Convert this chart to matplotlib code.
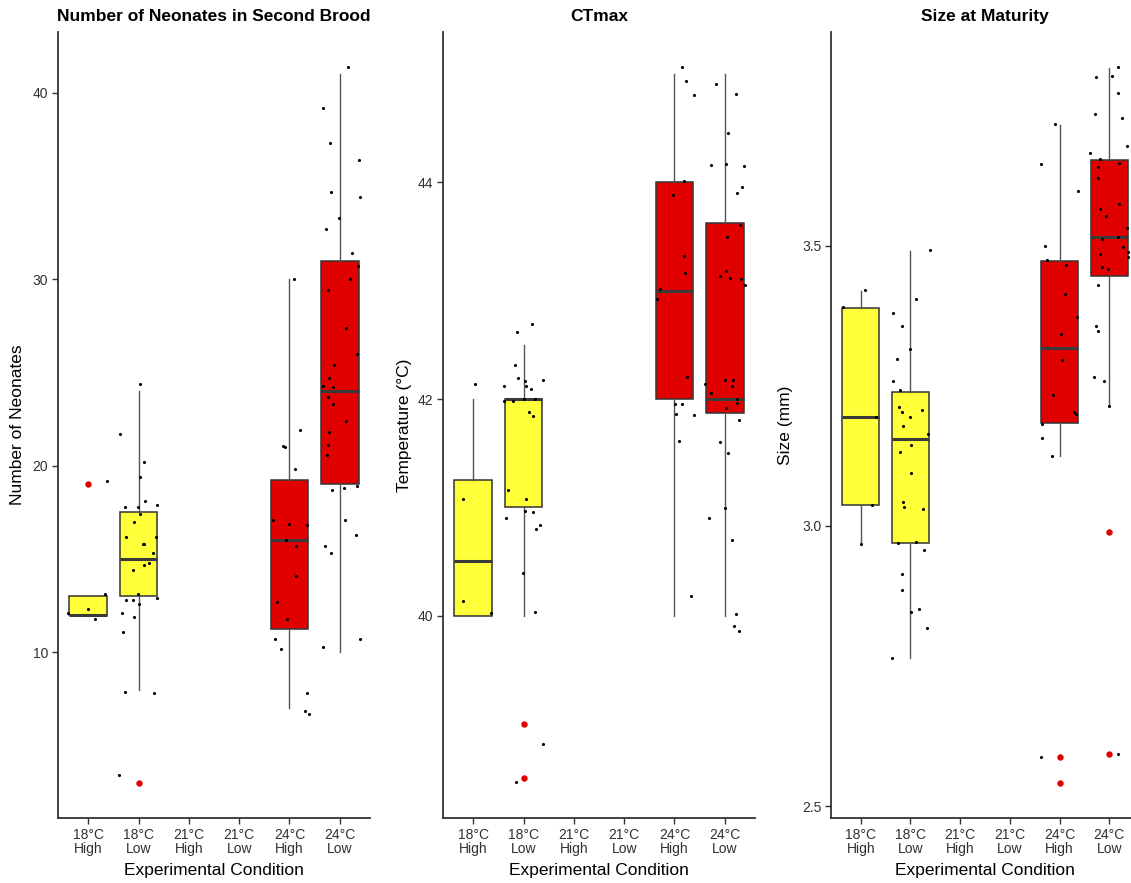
import matplotlib.pyplot as plt
import numpy as np

plt.rcParams['font.family'] = ['Liberation Sans', 'DejaVu Sans']

conditions = ["18°C\nHigh", "18°C\nLow", "21°C\nHigh", "21°C\nLow", "24°C\nHigh", "24°C\nLow"]
group_pos = [1, 2, 5, 6]   # only 18°C and 24°C groups have data
group_colors = ["#FFFF3A", "#FFFF3A", "#E00000", "#E00000"]

# ---- Number of neonates in second brood ----
neo_q1 = [12, 13, 11.25, 19]
neo_med = [12, 15, 16, 24]
neo_q3 = [13, 17.5, 19.25, 31]
neo_lo = [12, 8, 7, 10]
neo_hi = [13, 24, 30, 41]
neo_out = [[19], [3], [], []]
neo_pts = [
    ([0.0, -0.40, 0.13, 0.33, 0.38],
     [12.3, 12.1, 11.8, 13.1, 19.2]),
    ([0.03, -0.36, 0.11, 0.03, 0.13, 0.36, -0.27, -0.02, 0.03, -0.08, -0.25, 0.34, 0.08, 0.11, 0.29,
      0.20, 0.11, -0.11, -0.01, -0.24, -0.10, 0.0, 0.37, -0.32, -0.09, -0.31, -0.27, 0.30, -0.39],
     [24.4, 21.7, 20.2, 19.4, 18.1, 17.9, 17.8, 17.8, 17.4, 17.0, 16.2, 16.2, 15.8, 15.8, 15.3,
      14.8, 14.7, 14.4, 13.1, 12.8, 12.8, 12.6, 12.9, 12.1, 11.9, 11.1, 7.9, 7.8, 3.4]),
    ([0.09, 0.20, -0.09, -0.12, 0.11, -0.33, -0.01, 0.34, -0.07, 0.13, 0.13, -0.24, -0.05, -0.28,
      -0.16, 0.35, 0.31, 0.39],
     [30.0, 21.9, 21.0, 21.05, 19.8, 17.1, 16.9, 16.8, 16.0, 15.7, 14.1, 12.7, 11.8, 10.7,
      10.2, 7.8, 6.85, 6.7]),
    ([0.16, -0.33, -0.20, 0.38, -0.18, 0.41, -0.02, -0.28, 0.24, 0.36, 0.20, -0.23, 0.13, 0.35, -0.12,
      -0.22, -0.33, -0.13, -0.23, -0.13, 0.13, -0.22, -0.23, -0.25, -0.16, 0.08, 0.35, 0.10, 0.33,
      -0.30, -0.17, -0.34, 0.40],
     [41.4, 39.2, 37.3, 36.4, 34.7, 34.4, 33.3, 32.7, 31.4, 30.7, 30.0, 29.4, 27.4, 26.0, 25.4,
      24.7, 24.3, 24.2, 23.7, 23.3, 22.4, 21.8, 21.1, 20.6, 18.7, 18.8, 18.9, 17.1, 16.3,
      15.7, 15.3, 10.3, 10.7]),
]

# ---- CTmax ----
ct_q1 = [40, 41, 42, 41.875]
ct_med = [40.5, 42, 43, 42]
ct_q3 = [41.25, 42, 44, 43.63]
ct_lo = [40, 40, 40, 40]
ct_hi = [42, 42.5, 45, 45]
ct_out = [[], [39.0, 38.5], [], []]
ct_pts = [
    ([0.03, -0.20, -0.21, 0.35],
     [42.14, 41.08, 40.13, 40.02]),
    ([0.17, -0.13, -0.17, -0.11, 0.02, 0.39, -0.38, 0.15, 0.05, -0.38, -0.20, 0.01, 0.23, 0.11, 0.19,
      -0.30, 0.05, 0.03, 0.19, -0.34, 0.32, 0.25, -0.01, 0.23, 0.39, -0.15],
     [42.69, 42.62, 42.31, 42.19, 42.17, 42.18, 42.12, 42.09, 42.12, 41.98, 41.98, 42.0, 42.0, 41.88, 41.84,
      41.16, 41.08, 40.97, 40.96, 40.9, 40.84, 40.8, 40.39, 40.03, 38.81, 38.46]),
    ([0.14, 0.22, 0.39, 0.19, -0.03, 0.18, 0.20, -0.29, -0.34, 0.25, 0.01, 0.14, 0.03, 0.39, 0.09, 0.32],
     [45.07, 44.94, 44.81, 44.01, 43.88, 43.32, 43.16, 43.02, 42.92, 42.2, 41.95, 41.95, 41.86, 41.85,
      41.61, 40.18]),
    ([-0.18, 0.23, 0.07, -0.28, 0.03, 0.38, 0.34, 0.25, 0.30, 0.05, -0.10, 0.03, 0.11, 0.32, 0.41,
      -0.40, -0.27, 0.01, 0.17, 0.15, 0.24, 0.25, 0.03, 0.28, -0.10, 0.07, -0.31, 0.01, 0.15, 0.22,
      0.18, 0.28],
     [44.91, 44.82, 44.46, 44.16, 44.17, 44.15, 43.96, 43.9, 43.61, 43.5, 43.14, 43.18, 43.12, 43.11, 43.05,
      42.14, 42.06, 42.18, 42.18, 42.12, 42.0, 41.96, 41.92, 41.81, 41.6, 41.5, 40.9, 40.99, 40.7, 40.01,
      39.9, 39.86]),
]

# ---- Size at maturity ----
sz_q1 = [3.037, 2.969, 3.184, 3.446]
sz_med = [3.195, 3.155, 3.318, 3.515]
sz_q3 = [3.389, 3.239, 3.473, 3.652]
sz_lo = [2.967, 2.764, 3.125, 3.216]
sz_hi = [3.419, 3.491, 3.715, 3.817]
sz_out = [[], [], [2.588, 2.542], [2.989, 2.594]]
sz_pts = [
    ([0.09, -0.36, 0.30, 0.22, 0.0],
     [3.42, 3.39, 3.195, 3.037, 2.967]),
    ([0.39, 0.12, -0.35, -0.17, -0.01, -0.28, -0.35, -0.22, -0.23, -0.18, 0.23, -0.01, -0.16, 0.35, 0.02,
      -0.21, 0.02, -0.15, -0.14, 0.26, 0.11, -0.25, 0.27, -0.17, -0.17, 0.18, 0.01, 0.33, -0.38],
     [3.492, 3.405, 3.379, 3.357, 3.316, 3.298, 3.259, 3.242, 3.212, 3.203, 3.207, 3.195, 3.179, 3.164, 3.144,
      3.132, 3.095, 3.043, 3.034, 3.03, 2.971, 2.969, 2.957, 2.914, 2.886, 2.851, 2.847, 2.818, 2.764]),
    ([-0.09, -0.38, 0.37, -0.29, -0.26, 0.13, 0.11, 0.35, 0.02, 0.05, -0.13, 0.30, 0.34, -0.36, -0.35,
      -0.15, -0.38],
     [3.717, 3.645, 3.598, 3.499, 3.475, 3.465, 3.413, 3.373, 3.342, 3.296, 3.234, 3.204, 3.199, 3.182, 3.157,
      3.125, 2.588]),
    ([0.18, 0.05, -0.27, 0.17, -0.28, 0.25, 0.36, -0.39, -0.19, 0.20, -0.22, -0.22, 0.20, -0.19, -0.07,
      0.36, 0.18, -0.14, 0.28, 0.38, 0.37, -0.19, -0.15, -0.03, -0.22, -0.27, -0.22, -0.31, -0.11, 0.0, 0.18],
     [3.819, 3.802, 3.801, 3.773, 3.734, 3.728, 3.678, 3.665, 3.654, 3.648, 3.64, 3.62, 3.574, 3.566, 3.553,
      3.531, 3.515, 3.512, 3.497, 3.489, 3.48, 3.485, 3.462, 3.458, 3.43, 3.357, 3.348, 3.265, 3.258, 3.214,
      2.594]),
]


def draw_panel(ax, title, ylabel, q1, med, q3, lo, hi, out, pts, ylim, yticks, yticklabels):
    stats = []
    for i in range(len(group_pos)):
        stats.append(dict(q1=q1[i], med=med[i], q3=q3[i], whislo=lo[i], whishi=hi[i], fliers=out[i]))
    bp = ax.bxp(stats, positions=group_pos, widths=0.75, patch_artist=True, showcaps=False,
                boxprops=dict(edgecolor="#333333", linewidth=1.1),
                medianprops=dict(color="#3a3a3a", linewidth=2.2, solid_capstyle="butt"),
                whiskerprops=dict(color="#555555", linewidth=1.0),
                flierprops=dict(marker="o", markerfacecolor="#E00000", markeredgecolor="#E00000",
                                markersize=3.6))
    for patch, c in zip(bp["boxes"], group_colors):
        patch.set_facecolor(c)

    # jittered raw observations
    for p, (dx, vals) in zip(group_pos, pts):
        ax.scatter(p + np.array(dx), vals, s=5, color="black", zorder=4, linewidths=0)

    ax.set_xlim(0.4, 6.6)
    ax.set_ylim(*ylim)
    ax.set_xticks(range(1, 7))
    ax.set_xticklabels(conditions, fontsize=10, color="#303030", linespacing=1.0)
    ax.set_yticks(yticks)
    ax.set_yticklabels(yticklabels, fontsize=10, color="#303030")
    ax.tick_params(length=4, width=1, color="#333333", pad=3)
    for s in ["top", "right"]:
        ax.spines[s].set_visible(False)
    for s in ["left", "bottom"]:
        ax.spines[s].set_color("#333333")
        ax.spines[s].set_linewidth(1.3)
    ax.set_title(title, fontsize=12.5, fontweight="bold", pad=8)
    ax.set_xlabel("Experimental Condition", fontsize=12.5, labelpad=5)
    ax.set_ylabel(ylabel, fontsize=12.5)


fig = plt.figure(figsize=(11.31, 8.83), dpi=100)
W, H = 1131.0, 883.0
bottom = (H - 818) / H
height = (818 - 32) / H

ax1 = fig.add_axes([58 / W, bottom, 312 / W, height])
ax2 = fig.add_axes([443 / W, bottom, 312 / W, height])
ax3 = fig.add_axes([831 / W, bottom, 308 / W, height])

draw_panel(ax1, "Number of Neonates in Second Brood", "Number of Neonates",
           neo_q1, neo_med, neo_q3, neo_lo, neo_hi, neo_out, neo_pts,
           (1.12, 43.25), [10, 20, 30, 40], ["10", "20", "30", "40"])
draw_panel(ax2, "CTmax", "Temperature (°C)",
           ct_q1, ct_med, ct_q3, ct_lo, ct_hi, ct_out, ct_pts,
           (38.13, 45.39), [40, 42, 44], ["40", "42", "44"])
draw_panel(ax3, "Size at Maturity", "Size (mm)",
           sz_q1, sz_med, sz_q3, sz_lo, sz_hi, sz_out, sz_pts,
           (2.479, 3.881), [2.5, 3.0, 3.5], ["2.5", "3.0", "3.5"])

ax1.yaxis.set_label_coords(-33 / 312, 0.5)
ax2.yaxis.set_label_coords(-31 / 312, 0.5)
ax3.yaxis.set_label_coords(-38 / 308, 0.5)
# title of the last panel sits over the visible part only
ax3.set_title("Size at Maturity", fontsize=12.5, fontweight="bold", pad=8, x=(985 - 831) / 308)

fig.savefig("out.png", dpi=100)
